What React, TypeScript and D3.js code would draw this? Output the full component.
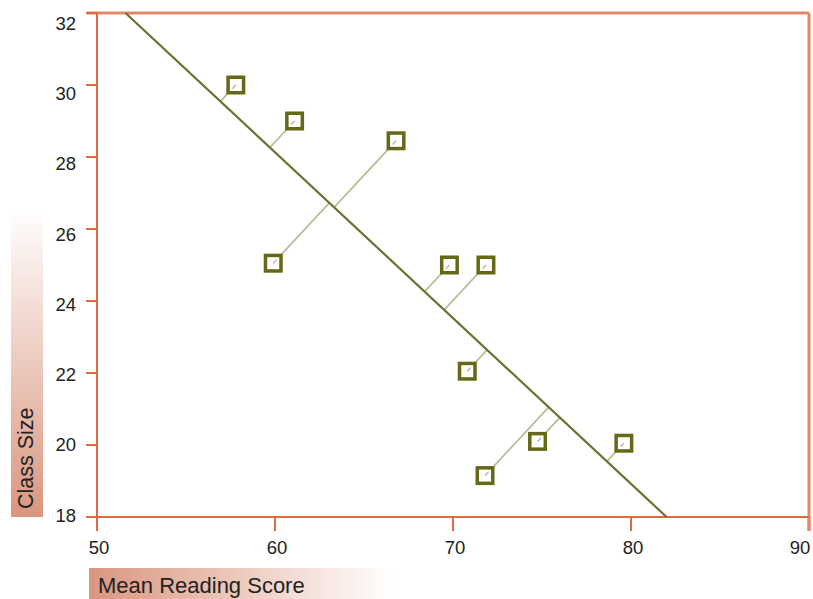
import React, { useEffect, useRef } from "react";
import * as d3 from "d3";

// Mean reading score vs class size
const scores = [57.8, 61.1, 66.8, 59.9, 69.8, 71.85, 70.8, 74.75, 79.6, 71.8];
const classSizes = [30, 29, 28.45, 25.05, 25, 25, 22.05, 20.1, 20.05, 19.15];

// fitted line end points
const fitX = [51.6, 82.0];
const fitY = [32, 18];

const xTicks = [50, 60, 70, 80, 90];
const yTicks = [18, 20, 22, 24, 26, 28, 30, 32];

const FONT = "'Liberation Sans', Arial, sans-serif";

const App = () => {
  const svgRef = useRef<SVGSVGElement>(null);

  useEffect(() => {
    const width = 813;
    const height = 599;
    const margin = { top: 13, right: 4, bottom: 82, left: 97 };
    const innerW = width - margin.left - margin.right;
    const innerH = height - margin.top - margin.bottom;

    const xScale = d3.scaleLinear().domain([50, 90]).range([0, innerW]);
    const yScale = d3.scaleLinear().domain([18, 32]).range([innerH, 0]);
    // tick labels sit on a slightly tighter spacing than the ticks
    const yLabelScale = d3.scaleLinear().domain([18, 32]).range([innerH - 2, 10]);

    const svgContainer = d3.select(svgRef.current);
    svgContainer.selectAll("*").remove();
    svgContainer.attr("width", width).attr("height", height);

    // gradients for axis title boxes
    const defs = svgContainer.append("defs");
    const gy = defs
      .append("linearGradient")
      .attr("id", "gradY")
      .attr("x1", 0)
      .attr("y1", 1)
      .attr("x2", 0)
      .attr("y2", 0);
    gy.append("stop").attr("offset", "0%").attr("stop-color", "#da967f");
    gy.append("stop").attr("offset", "100%").attr("stop-color", "#ffffff");
    const gx = defs
      .append("linearGradient")
      .attr("id", "gradX")
      .attr("x1", 0)
      .attr("y1", 0)
      .attr("x2", 1)
      .attr("y2", 0);
    gx.append("stop").attr("offset", "0%").attr("stop-color", "#da967f");
    gx.append("stop").attr("offset", "100%").attr("stop-color", "#ffffff");

    svgContainer
      .append("rect")
      .attr("x", 11)
      .attr("y", 207)
      .attr("width", 32)
      .attr("height", margin.top + innerH - 207)
      .attr("fill", "url(#gradY)");
    svgContainer
      .append("rect")
      .attr("x", 89)
      .attr("y", 568)
      .attr("width", 304)
      .attr("height", 31)
      .attr("fill", "url(#gradX)");

    svgContainer
      .append("text")
      .attr("transform", `translate(33,${margin.top + innerH - 8}) rotate(-90)`)
      .style("font-family", FONT)
      .style("font-size", "21.5px")
      .style("fill", "#222")
      .text("Class Size");
    svgContainer
      .append("text")
      .attr("x", 98)
      .attr("y", 593)
      .style("font-family", FONT)
      .style("font-size", "22px")
      .style("fill", "#222")
      .text("Mean Reading Score");

    const svg = svgContainer
      .append("g")
      .attr("transform", `translate(${margin.left},${margin.top})`);

    const axisColor = "#df6a42";

    // frame top / right
    svg
      .append("line")
      .attr("x1", -10)
      .attr("x2", innerW)
      .attr("y1", 0)
      .attr("y2", 0)
      .attr("stroke", "#de8a6a")
      .attr("stroke-width", 3);
    svg
      .append("line")
      .attr("x1", innerW)
      .attr("x2", innerW)
      .attr("y1", 0)
      .attr("y2", innerH + 14)
      .attr("stroke", "#de8a6a")
      .attr("stroke-width", 3);

    // y ticks
    svg
      .selectAll(".ytick")
      .data(yTicks)
      .enter()
      .append("line")
      .attr("x1", -11)
      .attr("x2", 0)
      .attr("y1", (d) => yScale(d))
      .attr("y2", (d) => yScale(d))
      .attr("stroke", axisColor)
      .attr("stroke-width", 2);
    svg
      .selectAll(".ylabel")
      .data(yTicks)
      .enter()
      .append("text")
      .attr("x", -21)
      .attr("y", (d) => yLabelScale(d))
      .attr("dy", "0.36em")
      .attr("text-anchor", "end")
      .style("font-family", FONT)
      .style("font-size", "18.5px")
      .style("fill", "#222")
      .text((d) => d);

    // x ticks
    svg
      .selectAll(".xtick")
      .data(xTicks)
      .enter()
      .append("line")
      .attr("x1", (d) => xScale(d))
      .attr("x2", (d) => xScale(d))
      .attr("y1", innerH)
      .attr("y2", innerH + 14)
      .attr("stroke", (d, i) => (i === xTicks.length - 1 ? "#de8a6a" : axisColor))
      .attr("stroke-width", (d, i) => (i === xTicks.length - 1 ? 3 : 2));
    svg
      .selectAll(".xlabel")
      .data(xTicks)
      .enter()
      .append("text")
      .attr("x", (d, i) => xScale(d) + (i === xTicks.length - 1 ? -9 : 2))
      .attr("y", innerH + 37)
      .attr("text-anchor", "middle")
      .style("font-family", FONT)
      .style("font-size", "18.5px")
      .style("fill", "#222")
      .text((d) => d);

    // axes
    svg
      .append("line")
      .attr("x1", 0)
      .attr("x2", 0)
      .attr("y1", 0)
      .attr("y2", innerH)
      .attr("stroke", axisColor)
      .attr("stroke-width", 2);
    svg
      .append("line")
      .attr("x1", -11)
      .attr("x2", innerW)
      .attr("y1", innerH)
      .attr("y2", innerH)
      .attr("stroke", axisColor)
      .attr("stroke-width", 2);

    // fitted line in pixel space
    const ax = xScale(fitX[0]);
    const ay = yScale(fitY[0]);
    const bx = xScale(fitX[1]);
    const by = yScale(fitY[1]);
    const len = Math.hypot(bx - ax, by - ay);
    const ux = (bx - ax) / len;
    const uy = (by - ay) / len;

    const pts = scores.map((s, i) => {
      const px = xScale(s);
      const py = yScale(classSizes[i]);
      const t = (px - ax) * ux + (py - ay) * uy;
      return { px, py, fx: ax + t * ux, fy: ay + t * uy };
    });

    // residuals
    svg
      .selectAll(".resid")
      .data(pts)
      .enter()
      .append("line")
      .attr("x1", (d) => d.px)
      .attr("y1", (d) => d.py)
      .attr("x2", (d) => d.fx)
      .attr("y2", (d) => d.fy)
      .attr("stroke", "#b9bd96")
      .attr("stroke-width", 1.8);

    svg
      .append("line")
      .attr("x1", ax)
      .attr("y1", ay)
      .attr("x2", bx)
      .attr("y2", by)
      .attr("stroke", "#69722e")
      .attr("stroke-width", 2.2);

    // markers
    const side = 15.5;
    svg
      .selectAll(".pt")
      .data(pts)
      .enter()
      .append("rect")
      .attr("x", (d) => d.px - side / 2)
      .attr("y", (d) => d.py - side / 2)
      .attr("width", side)
      .attr("height", side)
      .attr("fill", "#ffffff")
      .attr("stroke", "#656816")
      .attr("stroke-width", 3.5);

    // short stub of the residual inside each square
    svg
      .selectAll(".stub")
      .data(pts)
      .enter()
      .append("line")
      .attr("x1", (d) => d.px)
      .attr("y1", (d) => d.py)
      .attr("x2", (d) => {
        const l = Math.hypot(d.fx - d.px, d.fy - d.py) || 1;
        return d.px + ((d.fx - d.px) / l) * 5;
      })
      .attr("y2", (d) => {
        const l = Math.hypot(d.fx - d.px, d.fy - d.py) || 1;
        return d.py + ((d.fy - d.py) / l) * 5;
      })
      .attr("stroke", "#b9bd96")
      .attr("stroke-width", 1.5);
  }, []);

  return (
    <div style={{ position: "absolute", left: 0, top: 0 }}>
      <svg ref={svgRef} style={{ display: "block" }}></svg>
    </div>
  );
};

export default App;
